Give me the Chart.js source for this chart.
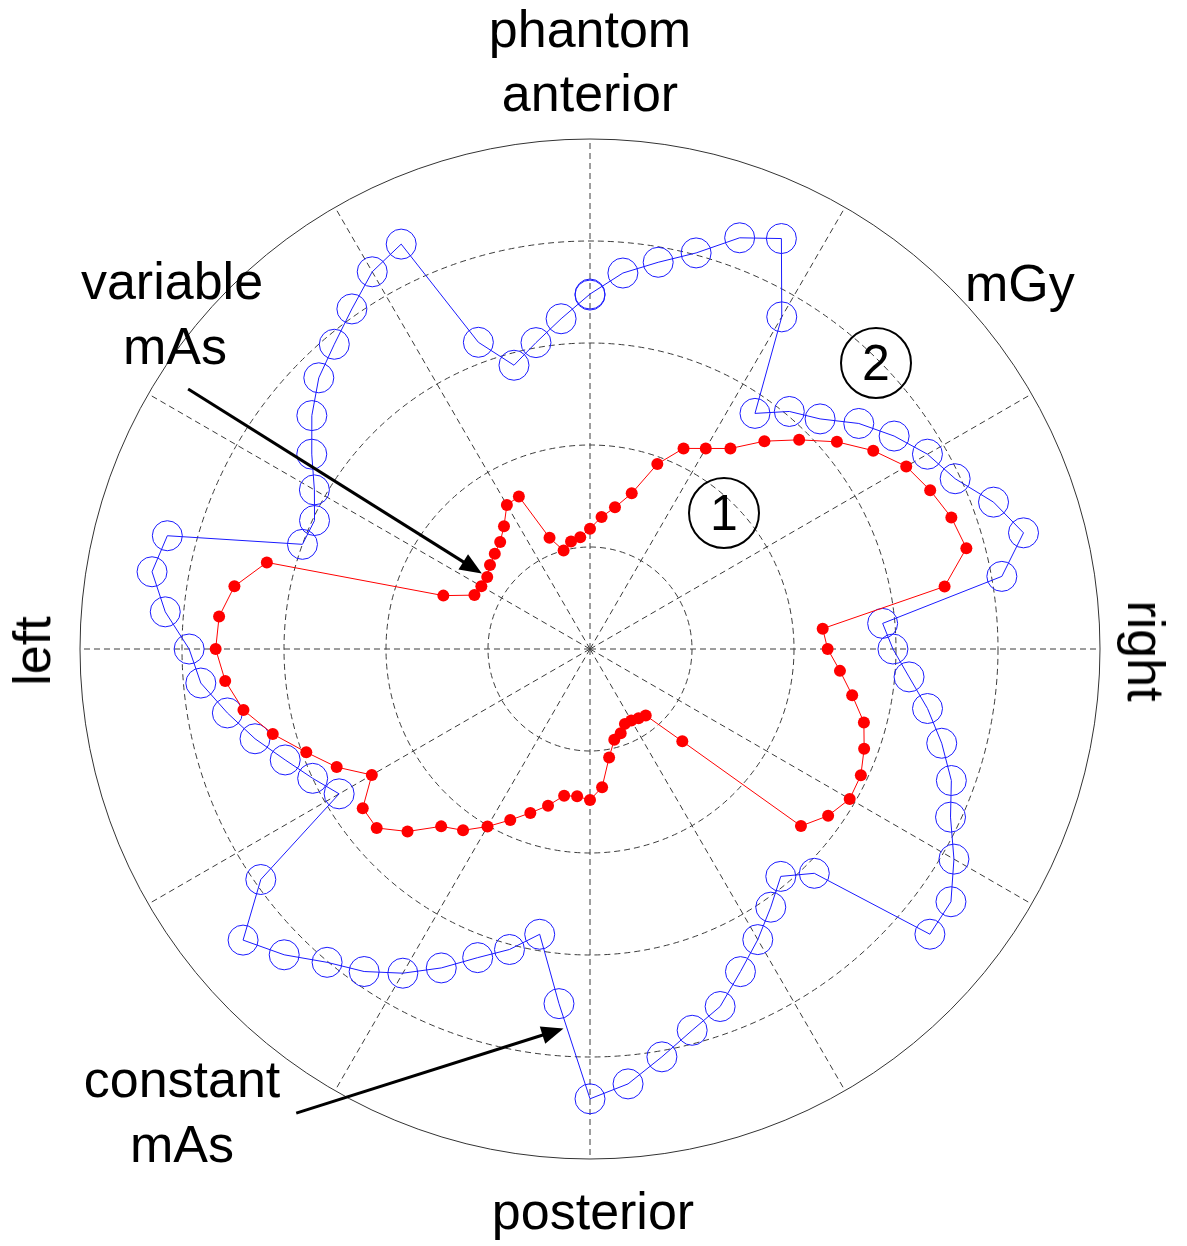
<!DOCTYPE html>
<html>
<head>
<meta charset="utf-8">
<script src="https://cdn.jsdelivr.net/npm/chart.js@4.4.1/dist/chart.umd.min.js"></script>
<style>
  html, body { margin: 0; padding: 0; background: #fff; }
  #wrap { position: relative; width: 1187px; height: 1246px; overflow: hidden; }
  #polar { position: absolute; left: 0; top: 0; }
  .lbl {
    position: absolute;
    font-family: "Liberation Sans", Arial, sans-serif;
    font-size: 52px;
    line-height: 52px;
    color: #000;
    white-space: nowrap;
  }
  .mid { transform: translateX(-50%); }
  .num {
    position: absolute;
    width: 72px; height: 72px;
    box-sizing: border-box;
    border: 2px solid #000;
    border-radius: 50%;
    font-family: "Liberation Sans", Arial, sans-serif;
    font-size: 50px;
    line-height: 68px;
    text-align: center;
    color: #000;
  }
</style>
</head>
<body>
<div id="wrap">
  <canvas id="polar" width="1187" height="1246"></canvas>

  <div class="lbl mid" style="left:590px; top:3px;">phantom</div>
  <div class="lbl mid" style="left:590px; top:67px;">anterior</div>
  <div class="lbl" style="left:965px; top:257px;">mGy</div>
  <div class="lbl mid" style="left:172px; top:255px;">variable</div>
  <div class="lbl mid" style="left:175px; top:320px;">mAs</div>
  <div class="lbl mid" style="left:182px; top:1053px;">constant</div>
  <div class="lbl mid" style="left:182px; top:1118px;">mAs</div>
  <div class="lbl mid" style="left:593px; top:1185px;">posterior</div>
  <div class="lbl" style="left:32px; top:651px; transform: translate(-50%, -50%) rotate(-90deg);">left</div>
  <div class="lbl" style="left:1146px; top:651px; transform: translate(-50%, -50%) rotate(90deg);">right</div>

  <div class="num" style="left:688px; top:477px;">1</div>
  <div class="num" style="left:840px; top:327px;">2</div>
</div>

<script>
// Polar angle of each sample (degrees, counter-clockwise from "right")
const angleDeg = [
    0, 5, 10, 15, 20, 25, 30, 35, 40, 45, 50, 55,
    60, 65, 70, 75, 80, 85, 90, 95, 100, 105, 110, 115,
    120, 125, 130, 135, 140, 145, 150, 155, 160, 165, 170, 175,
    180, 185, 190, 195, 200, 205, 210, 215, 220, 225, 230, 235,
    240, 245, 250, 255, 260, 265, 270, 275, 280, 285, 290, 295,
    300, 305, 310, 315, 320, 325, 330, 335, 340, 345, 350, 355
];

// (1) variable mAs, dose in mGy
const variableMAs = [
    2.33, 2.29, 3.53, 3.82, 3.77, 3.68, 3.58, 3.39, 3.16, 2.90, 2.66, 2.40,
    2.27, 2.17, 1.93, 1.58, 1.41, 1.30, 1.18, 1.10, 1.07, 1.00, 1.16, 1.65,
    1.63, 1.47, 1.37, 1.32, 1.28, 1.23, 1.23, 1.25, 1.53, 3.28, 3.54, 3.65,
    3.67, 3.59, 3.45, 3.22, 2.96, 2.74, 2.47, 2.72, 2.73, 2.53, 2.27, 2.17,
    2.01, 1.85, 1.71, 1.59, 1.46, 1.45, 1.48, 1.36, 1.08, 0.92, 0.88, 0.81,
    0.81, 0.83, 0.85, 1.28, 2.70, 2.85, 2.94, 2.93, 2.86, 2.78, 2.61, 2.46
];

// (2) constant mAs, dose in mGy
const constantMAs = [
    2.97, 2.88, 4.10, 4.40, 4.21, 3.95, 3.82, 3.64, 3.44, 3.19, 3.04, 2.82,
    3.76, 4.44, 4.29, 4.02, 3.85, 3.70, 3.48, 3.25, 3.05, 2.88, 3.20, 4.38,
    4.27, 4.07, 3.90, 3.76, 3.56, 3.33, 3.12, 2.98, 3.00, 4.29, 4.36, 4.18,
    3.93, 3.83, 3.61, 3.40, 3.18, 3.00, 2.84, 3.94, 4.44, 4.24, 4.01, 3.86,
    3.67, 3.45, 3.22, 3.05, 2.84, 3.49, 4.41, 4.28, 4.06, 3.87, 3.73, 3.49,
    3.29, 3.09, 2.91, 3.11, 4.35, 4.32, 4.12, 3.90, 3.77, 3.57, 3.36, 3.14
];

// repeated sample of the constant mAs scan (closing point of the rotation)
const constantRepeatAngle = [90];
const constantRepeatValue = [3.47];

// radial rings (mGy)
const ringTicks = [0, 1, 2, 3, 4, 5];
const rMax = 5;

// Chart.js radar runs clockwise from startAngle, so reorder the samples
// so that the angles go counter-clockwise from the right like the original.
function toClockwise(values) {
    return angleDeg.map((a, i) => values[(angleDeg.length - i) % angleDeg.length]);
}
const chartLabels = toClockwise(angleDeg).map(a => a + '°');

const repeatData = toClockwise(angleDeg.map(a => {
    const k = constantRepeatAngle.indexOf(a);
    return k >= 0 ? constantRepeatValue[k] : null;
}));

// Arrows from the text labels, in mGy units relative to the centre (y down)
const arrows = [
    { from: [-3.94, -2.55], to: [-1.06, -0.74] },
    { from: [-2.88, 4.55], to: [-0.26, 3.72] }
];

const arrowPlugin = {
    id: 'arrows',
    afterDatasetsDraw(chart) {
        const scale = chart.scales.r;
        const unit = scale.drawingArea / rMax;
        const ctx = chart.ctx;
        ctx.save();
        ctx.strokeStyle = '#000';
        ctx.fillStyle = '#000';
        ctx.lineWidth = 3;
        arrows.forEach(a => {
            const x0 = scale.xCenter + a.from[0] * unit;
            const y0 = scale.yCenter + a.from[1] * unit;
            const x1 = scale.xCenter + a.to[0] * unit;
            const y1 = scale.yCenter + a.to[1] * unit;
            const len = Math.hypot(x1 - x0, y1 - y0);
            const ux = (x1 - x0) / len, uy = (y1 - y0) / len;
            const headLen = 22, headHalf = 9;
            const bx = x1 - ux * headLen, by = y1 - uy * headLen;

            ctx.beginPath();
            ctx.moveTo(x0, y0);
            ctx.lineTo(bx + ux * 2, by + uy * 2);
            ctx.stroke();

            ctx.beginPath();
            ctx.moveTo(x1, y1);
            ctx.lineTo(bx - uy * headHalf, by + ux * headHalf);
            ctx.lineTo(bx + uy * headHalf, by - ux * headHalf);
            ctx.closePath();
            ctx.fill();
        });
        ctx.restore();
    }
};

function drawChart() {
    const ctx = document.getElementById('polar').getContext('2d');
    new Chart(ctx, {
        type: 'radar',
        data: {
            labels: chartLabels,
            datasets: [
                {
                    label: 'variable mAs',
                    data: toClockwise(variableMAs),
                    borderColor: '#ff0000',
                    borderWidth: 1,
                    backgroundColor: 'transparent',
                    fill: false,
                    pointStyle: 'circle',
                    pointRadius: 6,
                    pointBackgroundColor: '#ff0000',
                    pointBorderColor: '#ff0000',
                    pointBorderWidth: 0
                },
                {
                    label: 'constant mAs',
                    data: toClockwise(constantMAs),
                    borderColor: '#1a1aff',
                    borderWidth: 1,
                    backgroundColor: 'transparent',
                    fill: false,
                    pointStyle: 'circle',
                    pointRadius: 15,
                    pointBackgroundColor: 'transparent',
                    pointBorderColor: '#1a1aff',
                    pointBorderWidth: 1
                },
                {
                    label: 'constant mAs (repeat)',
                    data: repeatData,
                    showLine: false,
                    pointStyle: 'circle',
                    pointRadius: 15,
                    pointBackgroundColor: 'transparent',
                    pointBorderColor: '#1a1aff',
                    pointBorderWidth: 1
                }
            ]
        },
        options: {
            responsive: false,
            animation: false,
            devicePixelRatio: 1,
            events: [],
            layout: {
                padding: { left: 80, top: 139, right: 87, bottom: 87 }
            },
            elements: {
                line: { tension: 0 }
            },
            plugins: {
                legend: { display: false },
                tooltip: { enabled: false }
            },
            scales: {
                r: {
                    min: ringTicks[0],
                    max: rMax,
                    startAngle: 90,
                    afterBuildTicks: (axis) => {
                        axis.ticks = ringTicks.map(v => ({ value: v }));
                    },
                    ticks: { display: false },
                    pointLabels: { display: false },
                    grid: {
                        circular: true,
                        color: (c) => c.index === ringTicks.length - 1 ? '#333' : '#3c3c3c',
                        lineWidth: 1
                    },
                    border: {
                        dash: (c) => c.index === ringTicks.length - 1 ? [] : [6, 4]
                    },
                    angleLines: {
                        display: true,
                        color: '#3c3c3c',
                        // spokes every 30 degrees only
                        lineWidth: (c) => c.index % 6 === 0 ? 1 : 0,
                        borderDash: [6, 4]
                    }
                }
            }
        },
        plugins: [arrowPlugin]
    });
}

document.addEventListener('DOMContentLoaded', drawChart);
</script>
</body>
</html>
